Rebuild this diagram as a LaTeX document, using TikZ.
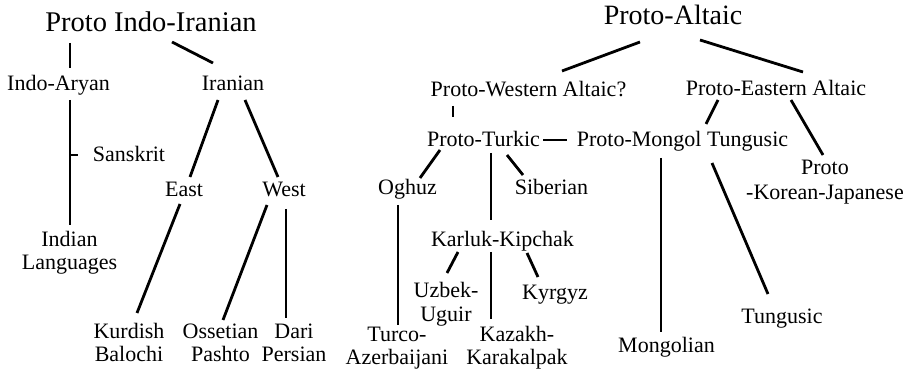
\documentclass[tikz,border=0pt]{standalone}
\usepackage{fontspec}
\setmainfont{Liberation Serif}
\usetikzlibrary{calc}
\newcommand\lnk[4]{\draw[edge] ($(#1.base)+(#2)$) -- ($(#3.base)+(#4)$);}
\newcommand\twoline[2]{\begin{tabular}[t]{@{}c@{}}#1\\#2\end{tabular}}
\begin{document}
\begin{tikzpicture}[x=1pt,y=-1pt,
  lbl/.style={font=\fontsize{22}{24}\selectfont, inner sep=0pt, anchor=base},
  ttl/.style={font=\fontsize{28.5}{30}\selectfont, inner sep=0pt, anchor=base},
  edge/.style={line width=2.8pt, black}]
\useasboundingbox (0,0) rectangle (914,374);
% left tree
\node[ttl] (t1) at (151,32) {Proto Indo-Iranian};
\node[lbl] (ia) at (58.5,91) {Indo-Aryan};
\node[lbl] (ir) at (233,91) {Iranian};
\node[lbl] (sk) at (129,162) {Sanskrit};
\node[lbl, font=\fontsize{22}{22.5}\selectfont] (il) at (69.5,247) {\twoline{Indian}{Languages}};
\node[lbl] (ea) at (184,197) {East};
\node[lbl] (we) at (284,197) {West};
\node[lbl] (ku) at (129,338) {\twoline{Kurdish}{Balochi}};
\node[lbl] (os) at (220.5,338) {\twoline{Ossetian}{Pashto}};
\node[lbl] (da) at (294,338) {\twoline{Dari}{Persian}};
% right tree
\node[ttl, font=\fontsize{28}{30}\selectfont] (pa) at (673,25) {Proto-Altaic};
\node[lbl] (pw) at (528.5,96.5) {Proto-Western Altaic?};
\node[lbl] (pe) at (776,95.5) {Proto-Eastern Altaic};
\node[lbl] (pt) at (483.5,147) {Proto-Turkic};
\node[lbl] (pm) at (682.5,147) {Proto-Mongol Tungusic};
\node[lbl, font=\fontsize{22}{25}\selectfont] (pk) at (825,175) {\twoline{Proto}{-Korean-Japanese}};
\node[lbl] (og) at (407.5,195) {Oghuz};
\node[lbl] (si) at (551.5,195) {Siberian};
\node[lbl] (kk) at (502.5,247) {Karluk-Kipchak};
\node[lbl] (uz) at (446,298) {\twoline{Uzbek-}{Uguir}};
\node[lbl] (ky) at (555,300) {Kyrgyz};
\node[lbl, font=\fontsize{22}{23}\selectfont] (tu) at (397,342) {\twoline{Turco-}{Azerbaijani}};
\node[lbl, font=\fontsize{22}{23}\selectfont] (kz) at (517,342) {\twoline{Kazakh-}{Karakalpak}};
\node[lbl] (mo) at (666.5,353) {Mongolian};
\node[lbl] (tg) at (782,324) {Tungusic};
% connectors left
\lnk{t1}{-81,11}{ia}{11.5,-23}
\lnk{t1}{21,10}{ir}{-20,-28}
\lnk{ia}{11.5,9}{il}{0.5,-22}
\lnk{sk}{-59,-7}{sk}{-51,-7}
\lnk{ir}{-15,9}{ea}{6,-20}
\lnk{ir}{12,9}{we}{-6,-20}
\lnk{ea}{-4,7}{ku}{8,-25}
\lnk{we}{-17,8}{os}{2.5,-18}
\lnk{we}{2,12}{da}{-8,-20}
% connectors right
\lnk{pa}{-33,17}{pw}{33.5,-25.5}
\lnk{pa}{27,15}{pe}{27,-23.5}
\lnk{pw}{-75.5,9.5}{pt}{-30.5,-30}
\lnk{pt}{59.5,-7}{pm}{-115.5,-7}
\lnk{pe}{-58,4.5}{pm}{23.5,-23}
\lnk{pe}{15,4.5}{pk}{-2,-20}
\lnk{pt}{-43.5,3}{og}{12.5,-17}
\lnk{pt}{7.5,6}{kk}{-11.5,-27}
\lnk{pt}{23.5,8}{si}{-28.5,-20}
\lnk{og}{-9.5,10}{tu}{1,-17}
\lnk{kk}{-44.5,5}{uz}{1,-25}
\lnk{kk}{-11.5,5}{kz}{-26,-23}
\lnk{kk}{24.5,6}{ky}{-17,-23}
\lnk{pm}{-21.5,11}{mo}{-5.5,-21}
\lnk{pm}{29.5,16}{tg}{-14,-30}
\end{tikzpicture}
\end{document}
